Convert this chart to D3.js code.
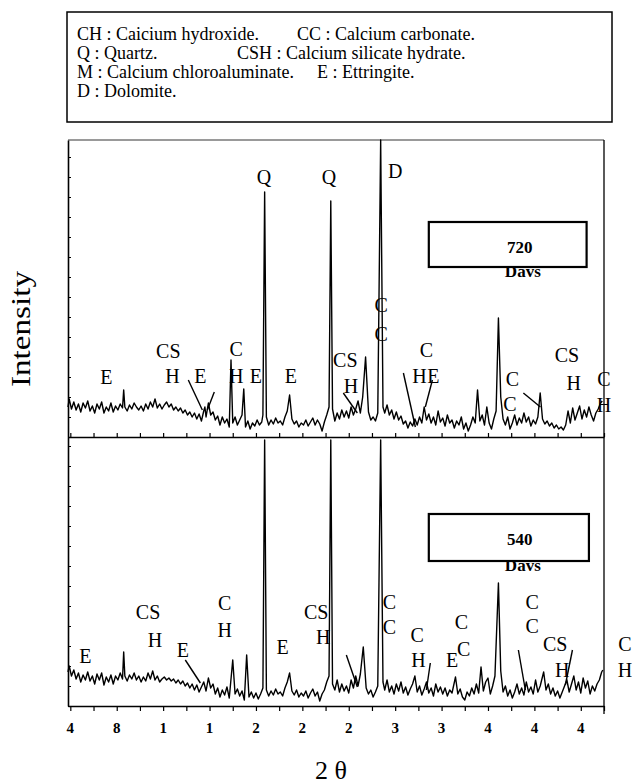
<!DOCTYPE html>
<html>
<head>
<meta charset="utf-8">
<script src="https://cdn.jsdelivr.net/npm/d3@7"></script>
<style>
  body { margin: 0; background: #fff; }
  svg { display: block; }
  svg text { font-family: "Liberation Serif", "DejaVu Serif", "Noto Serif", serif; }
</style>
</head>
<body>
<svg id="chart"></svg>
<script>
const width = 632;
const height = 784;
const serif = "'Liberation Serif', 'DejaVu Serif', serif";

// legend lines: [text, start x]
const legendRows = [
  [["CH : Caicium hydroxide.", 77], ["CC : Calcium carbonate.", 297]],
  [["Q : Quartz.", 77], ["CSH : Calcium silicate hydrate.", 237]],
  [["M : Calcium chloroaluminate.", 77], ["E : Ettringite.", 317]],
  [["D : Dolomite.", 77]]
];

// x axis
const majorTicks = [4, 8, 12, 16, 20, 24, 28, 32, 36, 40, 44, 48];
const tickLabels = ["4", "8", "1", "1", "2", "2", "2", "3", "3", "4", "4", "4"];
const minorTicks = [4, 6, 8, 10, 12, 14, 16, 18, 20, 22, 24, 26, 28, 30, 32, 34, 36, 38, 40, 42, 44, 46, 48, 50];

// 720 days scan: [2theta, counts]
const scan720 = [
  [3.8,30],[3.9,38],[4.1,28],[4.3,35],[4.5,27],[4.7,33],[4.9,25],[5.1,34],[5.3,29],[5.5,36],
  [5.7,26],[5.9,31],[6.1,24],[6.3,33],[6.5,28],[6.7,35],[6.9,24],[7.1,30],[7.3,26],[7.5,34],
  [7.7,25],[7.9,31],[8.1,27],[8.3,33],[8.5,29],[8.6,47],[8.7,30],[8.9,26],[9.1,32],[9.3,28],
  [9.5,34],[9.7,30],[9.9,27],[10.1,31],[10.3,26],[10.5,33],[10.7,28],[10.9,35],[11.1,30],[11.3,38],
  [11.5,29],[11.7,33],[11.9,28],[12.1,32],[12.3,35],[12.5,30],[12.7,33],[12.9,27],[13.1,30],[13.3,26],
  [13.5,29],[13.7,24],[13.9,27],[14.1,22],[14.3,25],[14.5,20],[14.7,24],[14.9,18],[15.1,23],[15.3,16],
  [15.5,26],[15.6,30],[15.7,20],[15.9,34],[16.1,22],[16.3,25],[16.5,17],[16.7,21],[16.9,12],[17.1,20],
  [17.3,14],[17.5,18],[17.7,10],[17.85,77],[18.0,14],[18.2,20],[18.4,12],[18.6,17],[18.8,22],[18.95,48],
  [19.1,10],[19.3,16],[19.5,8],[19.7,14],[19.9,11],[20.1,17],[20.3,12],[20.5,15],[20.6,22],[20.75,245],
  [20.9,20],[21.1,12],[21.3,17],[21.5,13],[21.7,19],[21.9,14],[22.1,16],[22.3,12],[22.5,20],[22.7,26],
  [22.9,42],[23.1,18],[23.3,13],[23.5,16],[23.7,10],[23.9,14],[24.1,12],[24.3,17],[24.5,11],[24.7,15],
  [24.9,19],[25.1,12],[25.3,17],[25.5,13],[25.7,6],[25.9,15],[26.1,22],[26.3,30],[26.45,236],[26.6,28],
  [26.8,16],[27.0,24],[27.2,18],[27.4,27],[27.6,20],[27.8,26],[28.0,19],[28.2,30],[28.4,22],[28.6,28],
  [28.8,36],[29.0,24],[29.2,40],[29.45,80],[29.7,25],[29.9,17],[30.1,20],[30.3,16],[30.5,24],[30.75,297],
  [30.95,30],[31.1,24],[31.3,32],[31.5,22],[31.7,27],[31.9,18],[32.1,25],[32.3,17],[32.5,21],[32.7,13],
  [32.9,16],[33.1,9],[33.3,15],[33.5,11],[33.7,18],[33.9,12],[34.1,20],[34.3,14],[34.5,30],[34.7,17],
  [34.9,23],[35.1,14],[35.3,20],[35.5,12],[35.7,26],[35.9,15],[36.1,19],[36.3,11],[36.5,22],[36.7,14],
  [36.9,17],[37.1,9],[37.3,16],[37.5,12],[37.7,20],[37.9,8],[38.1,14],[38.3,6],[38.5,12],[38.7,20],
  [38.9,14],[39.1,47],[39.3,16],[39.5,22],[39.7,12],[39.9,30],[40.1,14],[40.3,8],[40.5,18],[40.7,26],
  [40.9,119],[41.1,40],[41.3,18],[41.5,12],[41.7,20],[41.9,8],[42.1,14],[42.3,22],[42.5,12],[42.7,19],
  [42.9,14],[43.1,24],[43.3,15],[43.5,20],[43.7,11],[43.9,17],[44.1,13],[44.3,20],[44.5,44],[44.7,18],
  [44.9,13],[45.1,16],[45.3,11],[45.5,14],[45.7,9],[45.9,12],[46.1,8],[46.3,10],[46.5,7],[46.7,12],
  [46.9,26],[47.1,14],[47.3,29],[47.5,17],[47.7,24],[47.9,31],[48.1,18],[48.3,27],[48.5,20],[48.7,30],
  [48.9,22],[49.1,16],[49.3,24],[49.5,28],[49.7,34],[49.85,36]
];

// 540 days scan: [2theta, counts]
const scan540 = [
  [3.8,34],[3.9,40],[4.1,30],[4.3,36],[4.5,27],[4.7,33],[4.9,24],[5.1,31],[5.3,26],[5.5,34],
  [5.7,25],[5.9,30],[6.1,22],[6.3,32],[6.5,26],[6.7,33],[6.9,21],[7.1,29],[7.3,24],[7.5,31],
  [7.7,22],[7.9,30],[8.1,26],[8.3,33],[8.5,27],[8.6,54],[8.7,30],[8.9,25],[9.1,31],[9.3,27],
  [9.5,33],[9.7,26],[9.9,30],[10.1,24],[10.3,29],[10.5,25],[10.7,33],[10.9,27],[11.1,35],[11.3,26],
  [11.5,30],[11.7,24],[11.9,27],[12.1,29],[12.3,26],[12.5,28],[12.7,25],[12.9,27],[13.1,23],[13.3,26],
  [13.5,22],[13.7,25],[13.9,20],[14.1,23],[14.3,18],[14.5,22],[14.7,16],[14.9,21],[15.1,14],[15.3,19],
  [15.5,24],[15.7,15],[15.9,28],[16.1,18],[16.3,22],[16.5,12],[16.7,18],[16.9,9],[17.1,16],[17.3,11],
  [17.5,19],[17.7,8],[18.0,46],[18.2,12],[18.4,17],[18.6,10],[18.8,15],[19.0,6],[19.2,51],[19.4,9],
  [19.6,14],[19.8,8],[20.0,13],[20.2,7],[20.4,12],[20.6,18],[20.75,266],[20.9,16],[21.1,10],[21.3,15],
  [21.5,11],[21.7,17],[21.9,12],[22.1,14],[22.3,10],[22.5,18],[22.7,24],[22.9,33],[23.1,15],[23.3,11],
  [23.5,16],[23.7,9],[23.9,13],[24.1,10],[24.3,15],[24.5,8],[24.7,13],[24.9,17],[25.1,10],[25.3,14],
  [25.5,5],[25.7,12],[25.9,16],[26.1,24],[26.3,30],[26.45,266],[26.6,22],[26.8,16],[27.0,26],[27.2,14],
  [27.4,22],[27.6,15],[27.8,20],[28.0,13],[28.2,26],[28.4,18],[28.6,30],[28.8,20],[29.0,32],[29.25,59],
  [29.5,18],[29.7,12],[29.9,16],[30.1,9],[30.3,14],[30.5,20],[30.75,266],[30.95,24],[31.1,16],[31.3,26],
  [31.5,14],[31.7,20],[31.9,12],[32.1,22],[32.3,15],[32.5,24],[32.7,13],[32.9,19],[33.1,11],[33.3,17],
  [33.5,22],[33.7,30],[33.9,14],[34.1,20],[34.3,11],[34.5,17],[34.7,24],[34.9,13],[35.1,18],[35.3,10],
  [35.5,22],[35.7,14],[35.9,19],[36.1,12],[36.3,18],[36.5,10],[36.7,16],[36.9,13],[37.2,29],[37.4,12],
  [37.6,17],[37.8,9],[38.0,6],[38.2,14],[38.4,10],[38.6,18],[38.8,12],[39.0,22],[39.2,13],[39.4,39],
  [39.6,15],[39.8,24],[40.0,28],[40.2,12],[40.4,20],[40.6,30],[40.9,123],[41.1,35],[41.3,14],[41.5,20],
  [41.7,10],[41.9,16],[42.1,8],[42.3,14],[42.5,22],[42.7,12],[42.9,18],[43.1,11],[43.3,24],[43.5,14],
  [43.7,19],[43.9,12],[44.1,26],[44.3,14],[44.5,20],[44.8,34],[45.0,16],[45.2,22],[45.4,12],[45.6,18],
  [45.8,10],[46.0,15],[46.2,8],[46.4,14],[46.6,20],[46.8,26],[47.0,14],[47.2,22],[47.4,30],[47.6,16],
  [47.8,24],[48.0,13],[48.2,28],[48.4,18],[48.6,25],[48.8,12],[49.0,20],[49.2,15],[49.4,22],[49.6,26],
  [49.8,34],[49.9,36]
];

// peak labels: [text, 2theta, counts]
const labels720 = [
  ["Q",20.7,253],["Q",26.3,253],["D",32.0,259],
  ["E",7.1,53],["CS",12.45,79],["H",12.8,54],["E",15.2,54],["C",18.3,81],["H",18.3,54],
  ["E",20.0,54],["E",23.0,54],["CS",27.7,70],["H",28.2,44],["C",30.8,125],["C",30.8,96],
  ["C",34.7,80],["H",34.1,54],["E",35.3,54],["C",42.1,51],["C",41.9,26],["CS",46.8,75],
  ["H",47.4,47],["C",50.0,51],["H",50.0,25]
];
const labels540 = [
  ["E",5.3,43],["CS",10.7,87],["H",11.3,59],["E",13.7,49],["C",17.3,96],["H",17.3,69],
  ["E",22.3,52],["CS",25.2,87],["H",25.8,62],["C",31.5,97],["C",31.5,72],["C",33.9,64],
  ["H",34.0,39],["C",37.7,77],["E",36.9,39],["C",37.9,50],["C",43.8,97],["C",43.8,73],
  ["CS",45.8,55],["H",46.4,29],["C",51.8,55],["H",51.8,29]
];

// label pointer strokes: [2theta1, counts1, 2theta2, counts2]
const pointers720 = [
  [14.17,57,15.38,27],[16.41,45,15.81,27],[27.53,44,28.74,24],
  [32.71,64,33.74,10],[34.60,30,35.21,57],[43.05,44,44.52,30]
];
const pointers540 = [
  [13.91,46,15.21,23],[27.79,51,28.74,19],[35.03,43,34.69,16],
  [42.62,56,43.22,16],[47.28,56,46.67,21]
];

// age boxes: [label, 2theta from, 2theta to, counts top, counts bottom]
const ageBoxes = [["720", 34.9, 48.5, 215, 170], ["540", 34.9, 48.7, 192, 145]];

const svg = d3.select("#chart")
  .attr("width", width)
  .attr("height", height)
  .attr("viewBox", [0, 0, width, height])
  .attr("font-family", serif);

const x = d3.scaleLinear().domain([3.8, 50]).range([68, 604]);

const panels = [
  { scan: scan720, labels: labels720, pointers: pointers720, box: ageBoxes[0],
    y: d3.scaleLinear().domain([0, 297]).range([437, 140]), tick: -4 },
  { scan: scan540, labels: labels540, pointers: pointers540, box: ageBoxes[1],
    y: d3.scaleLinear().domain([0, 269]).range([706, 437]), tick: 5 }
];

// legend box
const legend = svg.append("g");
legend.append("rect")
  .attr("x", 67).attr("y", 12)
  .attr("width", 545).attr("height", 110)
  .attr("fill", "none").attr("stroke", "#000").attr("stroke-width", 1.5);
legendRows.forEach((row, i) => {
  row.forEach(([t, lx]) => {
    legend.append("text")
      .attr("x", lx).attr("y", 40 + i * 19)
      .attr("font-family", serif)
      .attr("font-size", 18)
      .text(t);
  });
});

panels.forEach(p => {
  const g = svg.append("g");
  const [y0, y1] = p.y.range();

  // frame
  g.append("line").attr("x1", 604).attr("x2", 604)
    .attr("y1", y1).attr("y2", p === panels[1] ? 714 : y0)
    .attr("stroke", "#000").attr("stroke-width", 1.3);
  if (p === panels[0]) {
    g.append("line").attr("x1", 68).attr("x2", 604).attr("y1", y1).attr("y2", y1)
      .attr("stroke", "#000").attr("stroke-width", 0.8);
  }

  g.append("g")
    .attr("transform", `translate(0,${y0})`)
    .call(d3.axisBottom(x).tickValues(minorTicks).tickSize(p.tick).tickSizeOuter(0).tickFormat(""))
    .call(a => a.select(".domain").attr("stroke-width", 1.5))
    .call(a => a.selectAll(".tick line").attr("stroke-width", 1.2));

  g.append("g")
    .attr("transform", "translate(68,0)")
    .call(d3.axisLeft(p.y).ticks(10).tickSize(-3).tickSizeOuter(0).tickFormat(""))
    .call(a => a.select(".domain").attr("stroke-width", 1.6));

  // scan trace
  g.append("path")
    .datum(p.scan)
    .attr("fill", "none")
    .attr("stroke", "#000")
    .attr("stroke-width", 1.4)
    .attr("stroke-linejoin", "round")
    .attr("d", d3.line().x(d => x(d[0])).y(d => p.y(d[1])));

  g.selectAll(".ptr")
    .data(p.pointers)
    .join("line")
    .attr("x1", d => x(d[0])).attr("y1", d => p.y(d[1]))
    .attr("x2", d => x(d[2])).attr("y2", d => p.y(d[3]))
    .attr("stroke", "#000").attr("stroke-width", 1.4);

  g.selectAll(".lbl")
    .data(p.labels)
    .join("text")
    .attr("x", d => x(d[1]))
    .attr("y", d => p.y(d[2]))
    .attr("text-anchor", "middle")
    .attr("font-family", serif)
    .attr("font-size", 20)
    .text(d => d[0]);

  // age box
  const [age, a0, a1, c1, c0] = p.box;
  g.append("rect")
    .attr("x", x(a0)).attr("y", p.y(c1))
    .attr("width", x(a1) - x(a0)).attr("height", p.y(c0) - p.y(c1))
    .attr("fill", "none").attr("stroke", "#000").attr("stroke-width", 2.2);
  g.append("text")
    .attr("x", x(a0) + 91).attr("y", p.y(c1) + 31)
    .attr("text-anchor", "middle")
    .attr("font-family", serif)
    .attr("font-size", 17).attr("font-weight", "bold")
    .text(age);
  g.append("text")
    .attr("x", x(a0) + 94).attr("y", p.y(c0) + 10)
    .attr("text-anchor", "middle")
    .attr("font-family", serif)
    .attr("font-size", 17).attr("font-weight", "bold")
    .text("Davs");
});

// x labels of the lower panel
svg.append("g")
  .selectAll("text")
  .data(majorTicks)
  .join("text")
  .attr("x", d => x(d))
  .attr("y", 733)
  .attr("text-anchor", "middle")
  .attr("font-family", serif)
  .attr("font-size", 15)
  .attr("font-weight", "bold")
  .text((d, i) => tickLabels[i]);

svg.append("text")
  .attr("x", 331).attr("y", 779)
  .attr("text-anchor", "middle")
  .attr("font-family", serif)
  .attr("font-size", 26)
  .text("2 θ");

svg.append("text")
  .attr("transform", "translate(30,329) rotate(-90)")
  .attr("text-anchor", "middle")
  .attr("font-family", serif)
  .attr("font-size", 28)
  .attr("textLength", 116)
  .attr("lengthAdjust", "spacingAndGlyphs")
  .text("Intensity");
</script>
</body>
</html>
